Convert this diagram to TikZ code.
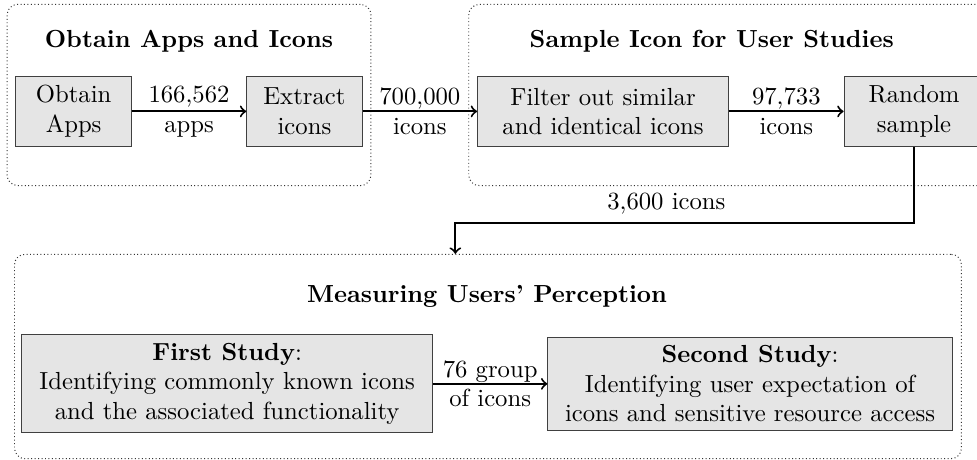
\documentclass[tikz,border=0pt]{standalone}
\usetikzlibrary{positioning,calc,fit,backgrounds}
\begin{document}
\begin{tikzpicture}[
  node distance=16.3mm,
  box/.style={draw=black!75, fill=gray!20, align=center, minimum height=1cm},
  group/.style={draw=black!80, densely dotted, rounded corners=1.5mm, inner sep=0pt},
  ttl/.style={font=\bfseries},
  arr/.style={->, thick},
  lbl/.style={align=center}
]
\useasboundingbox (0,0) rectangle (395.5pt,-186.2pt);

% Top row: collecting the apps, then sampling the icons.
\node[box, minimum width=16.4mm] (apps) at (29.8pt,-45.1pt) {Obtain\\Apps};
\node[box, minimum width=16.4mm, right=of apps] (extract) {Extract\\icons};
\node[box, minimum width=35.7mm, right=of extract] (filter) {Filter out similar\\and identical icons};
\node[box, minimum width=19.9mm, right=of filter] (sample) {Random\\sample};

% Bottom row: the two user studies.
\node[box, minimum width=58.4mm, anchor=west] (first) at ([shift={(2.4pt,-110.3pt)}]apps.west)
  {\textbf{First Study}:\\Identifying commonly known icons\\and the associated functionality};
\node[box, minimum width=57.5mm, right=of first] (second)
  {\textbf{Second Study}:\\Identifying user expectation of\\icons and sensitive resource access};

% Stage titles.
\node[ttl] (obtaintitle) at ($(apps.north)!0.5!(extract.north)+(0,14pt)$) {Obtain Apps and Icons};
\node[ttl] (sampletitle) at ($(filter.north east)+(-7pt,14pt)$) {Sample Icon for User Studies};
\node[ttl] (measuretitle) at ($(first.north west)!0.5!(second.north east)+(0,16pt)$) {Measuring Users' Perception};

% Dotted frames round each stage.
\begin{scope}[on background layer]
  \node[group, fit={([shift={(-3.4pt,28.9pt)}]apps.north west) ([shift={(3.4pt,-15.6pt)}]extract.south east)}] (obtaingrp) {};
  \node[group, fit={([shift={(-3.4pt,28.9pt)}]filter.north west) ([shift={(3.4pt,-15.6pt)}]sample.south east)}] (samplegrp) {};
  \node[group, fit={([shift={(-2.8pt,32.4pt)}]first.north west) ([shift={(3.6pt,-11.2pt)}]second.south east)}] (measuregrp) {};
\end{scope}

% Flow arrows with counts.
\draw[arr] (apps) -- node[lbl] {166,562\\apps} (extract);
\draw[arr] (extract) -- node[lbl] {700,000\\icons} (filter);
\draw[arr] (filter) -- node[lbl] {97,733\\icons} (sample);
\draw[arr] (first) -- node[lbl] {76 group\\of icons} (second);

% Sampled icons go down to the studies.
\coordinate (drop) at ([xshift=9.1pt]first.east |- measuregrp.north);
\draw[arr] (sample.south) -- ++(0,-30.8pt) -| node[above, pos=0.27] {3,600 icons} (drop);
\end{tikzpicture}
\end{document}
